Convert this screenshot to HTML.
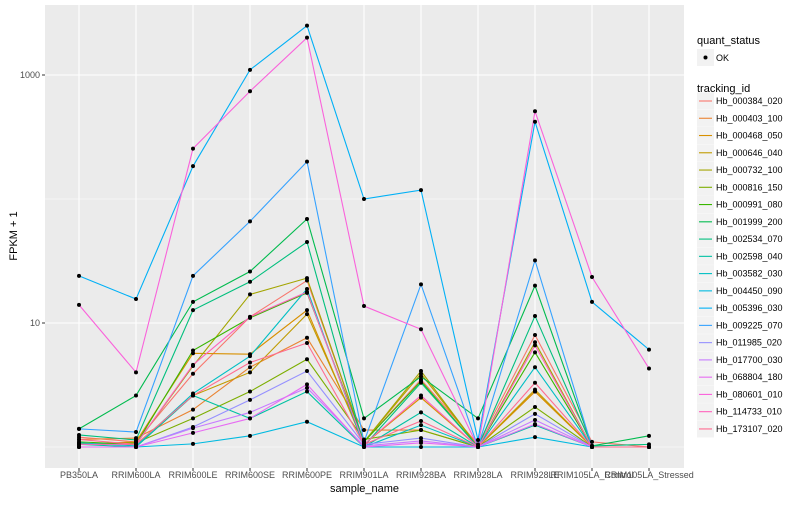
<!DOCTYPE html>
<html><head><meta charset="utf-8"><style>
body{margin:0;background:#fff;font-family:"Liberation Sans",sans-serif;}
svg text{font-family:"Liberation Sans",sans-serif;}
</style></head><body>
<svg id="chart" width="800" height="500" xmlns="http://www.w3.org/2000/svg"></svg>
<script>
const categories=["PB350LA","RRIM600LA","RRIM600LE","RRIM600SE","RRIM600PE","RRIM901LA","RRIM928BA","RRIM928LA","RRIM928LE","RRIM105LA_Control","RRIM105LA_Stressed"];
const seriesNames=["Hb_000384_020","Hb_000403_100","Hb_000468_050","Hb_000646_040","Hb_000732_100","Hb_000816_150","Hb_000991_080","Hb_001999_200","Hb_002534_070","Hb_002598_040","Hb_003582_030","Hb_004450_090","Hb_005396_030","Hb_009225_070","Hb_011985_020","Hb_017700_030","Hb_068804_180","Hb_080601_010","Hb_114733_010","Hb_173107_020"];
const seriesColors=["#F8766D","#EA8331","#D89000","#C09B00","#A3A500","#7CAE00","#39B600","#00BB4E","#00BF7D","#00C1A3","#00BFC4","#00BAE0","#00B0F6","#35A2FF","#9590FF","#C77CFF","#E76BF3","#FA62DB","#FF62BC","#FF6C91"];
const s00=[1.2,1.1,3.9,11.2,22,1.1,3.5,1.05,8,1.1,1.0];
const s01=[1.15,1.18,2.0,4.4,7.6,1.37,1.37,1.0,2.8,1.0,1.0];
const s02=[1.05,1.1,5.7,5.6,12.7,1.05,2.5,1.0,2.8,1.0,1.0];
const s03=[1.05,1.05,2.6,4.0,11.8,1.1,3.9,1.0,2.9,1.0,1.0];
const s04=[1.05,1.05,4.5,17,23,1.1,4.1,1.0,7.0,1.0,1.0];
const s05=[1.05,1.08,1.7,2.8,5.1,1.15,1.37,1.0,2.1,1.0,1.0];
const s06=[1.1,1.05,6.0,11,17.5,1.1,3.4,1.0,5.8,1.0,1.0];
const s07=[1.4,2.6,14.8,26,69,1.7,3.7,1.7,20,1.02,1.23];
const s08=[1.25,1.14,12.7,21.5,45,1.02,3.3,1.0,11.4,1.02,1.05];
const s09=[1.05,1.0,2.6,1.7,2.8,1.0,1.9,1.0,1.5,1.0,1.0];
const s10=[1.08,1.02,2.7,5.4,18.8,1.0,1.5,1.0,4.4,1.0,1.0];
const s11=[1.0,1.0,1.06,1.23,1.6,1.0,1.0,1.0,1.2,1.0,1.0];
const s12=[24,15.6,184,1100,2500,100,118,1.14,420,14.8,6.1];
const s13=[1.4,1.32,24,66,200,1.1,20.5,1.0,32,1.0,1.0];
const s14=[1.0,1.0,1.45,2.4,4.1,1.05,1.18,1.0,1.85,1.0,1.0];
const s15=[1.0,1.0,1.42,1.9,3.0,1.02,1.12,1.0,1.65,1.0,1.0];
const s16=[1.0,1.0,1.3,1.7,3.2,1.0,1.08,1.0,1.53,1.0,1.0];
const s17=[14,4.0,255,740,2000,13.7,8.9,1.0,510,23.5,4.3];
const s18=[1.05,1.05,4.6,11.2,17.8,1.05,2.6,1.0,6.6,1.0,1.0];
const s19=[1.15,1.05,2.6,4.8,6.9,1.05,1.62,1.0,3.3,1.0,1.0];
const seriesValues=[s00,s01,s02,s03,s04,s05,s06,s07,s08,s09,s10,s11,s12,s13,s14,s15,s16,s17,s18,s19];
const yMajorTicks=[10,1000];
const yMajorLabels=["10","1000"];
const yMinorTicks=[1,100];

const NS="http://www.w3.org/2000/svg";
const svg=document.getElementById("chart");
const P={l:45,r:684,t:5,b:468};
function x(i){return 79+i*57;}
function y(v){return 447-(Math.log10(v))*124;}
function mk(tag,attrs,parent){const e=document.createElementNS(NS,tag);for(const k in attrs)e.setAttribute(k,attrs[k]);(parent||svg).appendChild(e);return e;}

const panel=mk("rect",{x:P.l,y:P.t,width:P.r-P.l,height:P.b-P.t,fill:"#EBEBEB"});


yMinorTicks.forEach(v=>{const g=mk("line",{x1:P.l,x2:P.r,y1:y(v),y2:y(v),stroke:"#fff","stroke-width":0.6});

});
yMajorTicks.forEach((v,i)=>{const g=mk("line",{x1:P.l,x2:P.r,y1:y(v),y2:y(v),stroke:"#fff","stroke-width":1.1});


const tk=mk("line",{x1:P.l-3,x2:P.l,y1:y(v),y2:y(v),stroke:"#333","stroke-width":1});


const t=mk("text",{x:P.l-5,y:y(v)+3,"text-anchor":"end","font-size":9,fill:"#4D4D4D"});t.textContent=yMajorLabels[i];

});
categories.forEach((c,i)=>{const g=mk("line",{x1:x(i),x2:x(i),y1:P.t,y2:P.b,stroke:"#fff","stroke-width":1.1});


const tk=mk("line",{x1:x(i),x2:x(i),y1:P.b,y2:P.b+3,stroke:"#333","stroke-width":1});


const t=mk("text",{x:x(i),y:P.b+10,"text-anchor":"middle","font-size":9,fill:"#4D4D4D"});t.textContent=c;

});
seriesValues.forEach((vals,s)=>{const pts=vals.map((v,i)=>x(i)+","+y(v)).join(" ");
const pl=mk("polyline",{points:pts,fill:"none",stroke:seriesColors[s],"stroke-width":1.1});

});
seriesValues.forEach((vals,s)=>{vals.forEach((v,i)=>{const c=mk("circle",{cx:x(i),cy:y(v),r:2,fill:"#000"});

});});

const xt=mk("text",{x:(P.l+P.r)/2,y:492,"text-anchor":"middle","font-size":11,fill:"#000"});xt.textContent="sample_name";


const yt=mk("text",{x:0,y:0,"text-anchor":"middle","font-size":11,fill:"#000",transform:"translate(17,236) rotate(-90)"});yt.textContent="FPKM + 1";



const q=mk("text",{x:697,y:44,"font-size":11,fill:"#000"});q.textContent="quant_status";


const qb=mk("rect",{x:697,y:49,width:17,height:17,fill:"#F2F2F2"});


const qc=mk("circle",{cx:705.5,cy:57.5,r:2,fill:"#000"});


const qt=mk("text",{x:716,y:61,"font-size":9,fill:"#000"});qt.textContent="OK";


const tt=mk("text",{x:697,y:92,"font-size":11,fill:"#000"});tt.textContent="tracking_id";


seriesNames.forEach((n,i)=>{const cy=101+i*17.26;
const b=mk("rect",{x:697,y:cy-8.5,width:17,height:17,fill:"#F2F2F2"});


const l=mk("line",{x1:699,x2:712,y1:cy,y2:cy,stroke:seriesColors[i],"stroke-width":1.1});


const t=mk("text",{x:716,y:cy+3,"font-size":9,fill:"#000"});t.textContent=n;

});
</script>
</body></html>
